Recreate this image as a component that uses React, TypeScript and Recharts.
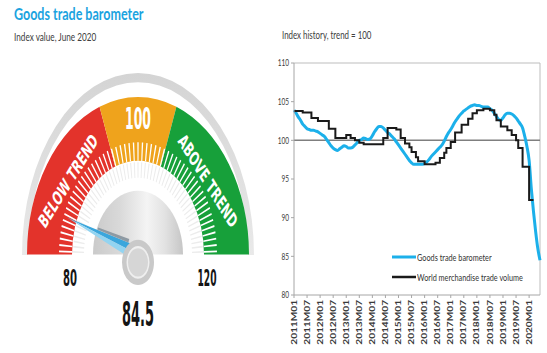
import React from 'react';
import { PieChart, Pie, Cell, LineChart, Line, XAxis, YAxis, ReferenceLine } from 'recharts';

// ---- gauge ----
const GAUGE_MIN = 80;
const GAUGE_MAX = 120;
const GAUGE_VALUE = 84.5;
const zoneNames = ['BELOW TREND', '100', 'ABOVE TREND'];
const zoneWidths = [15.5, 9, 15.5];
const zoneColors = ['#e3332b', '#efa31c', '#17a03a'];
const TICK_COUNT = 55;

// ---- history ----
const seriesNames = ['Goods trade barometer', 'World merchandise trade volume'];
const seriesColors = ['#1cb0ea', '#1a1a1a'];
const barometer = [
  103.9, 103.5, 103.0, 102.6, 102.1, 101.8, 101.5, 101.4, 101.3, 101.3, 101.2, 101.1,
  100.9, 100.7, 100.5, 100.1, 99.7, 99.3, 99.0, 98.8, 98.7, 98.9, 99.1, 99.3,
  99.2, 99.0, 99.0, 99.1, 99.4, 99.7, 100.0, 100.1, 100.3, 100.2, 100.1, 100.2,
  100.6, 101.1, 101.5, 101.8, 101.8, 101.6, 101.3, 101.0, 100.8, 100.5, 100.2, 99.8,
  99.4, 99.0, 98.6, 98.2, 97.8, 97.4, 97.1, 96.9, 96.9, 96.9, 96.9, 96.9,
  97.0, 97.2, 97.5, 97.9, 98.2, 98.5, 98.8, 99.1, 99.4, 99.9, 100.5, 101.0,
  101.4, 101.9, 102.4, 102.8, 103.2, 103.5, 103.8, 104.0, 104.2, 104.4, 104.5, 104.6,
  104.5, 104.5, 104.4, 104.3, 104.3, 104.3, 104.1, 103.9, 103.5, 103.1, 102.7, 102.6,
  102.9, 103.3, 103.5, 103.5, 103.4, 103.2, 102.9, 102.5, 102.1, 101.6, 100.5, 99.2,
  97.4, 93.8, 90.8, 88.2, 86.0, 84.5,
];
const tradeVolume = [
  103.8, 103.8, 103.8, 103.8, 103.6, 103.6, 103.6, 103.6, 102.9, 102.9, 102.9, 102.5,
  102.5, 102.5, 102.5, 102.5, 101.5, 101.5, 101.5, 100.3, 100.3, 100.3, 100.3, 100.3,
  100.7, 100.7, 100.3, 100.3, 100.0, 100.0, 99.7, 99.7, 99.5, 99.5, 99.5, 99.5,
  99.5, 99.5, 99.5, 99.5, 99.5, 100.3, 100.3, 101.6, 101.6, 101.6, 101.6, 101.4,
  101.4, 100.3, 100.3, 99.6, 99.6, 99.1, 98.5, 98.5, 97.8, 97.3, 97.3, 97.3,
  96.9, 96.9, 96.9, 96.9, 96.9, 97.1, 97.1, 97.7, 97.7, 98.4, 99.0, 99.0,
  99.8, 99.8, 101.0, 101.0, 101.0, 102.0, 102.0, 102.0, 102.8, 102.8, 103.5, 103.5,
  103.9, 103.9, 103.9, 104.1, 104.1, 104.1, 103.9, 103.9, 103.3, 102.6, 102.6, 101.8,
  101.8, 101.8, 101.3, 101.3, 100.7, 100.7, 100.0, 99.0, 99.0, 96.6, 96.6, 96.6,
  92.3, 92.3, 92.3,
];
const yTicks = [80, 85, 90, 95, 100, 105, 110];
const months = barometer.map(
  (_, i) => `${2011 + Math.floor(i / 12)}M${String((i % 12) + 1).padStart(2, '0')}`
);

const rows = months.map((month, i) => ({
  month,
  gtb: barometer[i],
  wmtv: i < tradeVolume.length ? tradeVolume[i] : null,
}));
const zones = zoneNames.map((name, i) => ({ name, value: zoneWidths[i] }));
const tickCells = Array.from({ length: TICK_COUNT }, () => [0.35, 0.3, 0.35]).flat().map(v => ({ v }));

const CX = 138;
const CY = 137;
const HUB_Y = CY + 5.5;
const SY = 1.42;
const NARROW = "'Liberation Sans Narrow', 'DejaVu Sans Condensed', Roboto, sans-serif";

function Needle() {
  const angle = 180 - ((GAUGE_VALUE - GAUGE_MIN) / (GAUGE_MAX - GAUGE_MIN)) * 180;
  const r = (angle * Math.PI) / 180;
  const ux = Math.cos(r), uy = -Math.sin(r);
  const nx = -uy, ny = ux;
  const len = 75, half = 5.5;
  const p = (d: number, o: number) => `${CX + ux * d + nx * o},${CY + uy * d + ny * o}`;
  return (
    <g>
      <polygon points={`${p(len, 0)} ${p(0, 0)} ${p(0, half)}`} fill="#3aa6dc" />
      <polygon points={`${p(len, 0)} ${p(0, 0)} ${p(0, -half)}`} fill="#93d4f1" />
      <polygon points={`${p(12, half * 0.85)} ${p(44, half * 0.45)} ${p(44, half * 0.45 + 1.6)} ${p(12, half + 1.8)}`} fill="#8e9aa3" />
    </g>
  );
}

function GaugeText() {
  const t = (deg: number, rad: number) => {
    const a = (deg * Math.PI) / 180;
    return [CX + rad * Math.cos(a), CY - rad * Math.sin(a)];
  };
  const [bx, by] = t(143.4, 87);
  const [ax, ay] = t(36.6, 87);
  return (
    <g fontFamily={NARROW} fontWeight="bold">
      <text x={bx} y={by} dy="0.35em" textAnchor="middle" fill="#fff" fontSize={14}
        textLength={82} lengthAdjust="spacingAndGlyphs" transform={`rotate(-49 ${bx} ${by})`}>{zoneNames[0]}</text>
      <text x={ax} y={ay} dy="0.35em" textAnchor="middle" fill="#fff" fontSize={14}
        textLength={82} lengthAdjust="spacingAndGlyphs" transform={`rotate(49 ${ax} ${ay})`}>{zoneNames[2]}</text>
      <text x={CX} y={41} dy="0.35em" textAnchor="middle" fill="#fff" fontSize={21}
        textLength={26} lengthAdjust="spacingAndGlyphs">{zoneNames[1]}</text>
      <text x={70} y={153.5} dy="0.35em" textAnchor="middle" fill="#151515" fontSize={16}
        textLength={14} lengthAdjust="spacingAndGlyphs">{GAUGE_MIN}</text>
      <text x={207} y={153.5} dy="0.35em" textAnchor="middle" fill="#151515" fontSize={16}
        textLength={19} lengthAdjust="spacingAndGlyphs">{GAUGE_MAX}</text>
      <text x={CX} y={179} dy="0.35em" textAnchor="middle" fill="#151515" fontSize={24}
        textLength={32} lengthAdjust="spacingAndGlyphs">{GAUGE_VALUE}</text>
    </g>
  );
}

function XTick(props: any) {
  const { x, y, payload } = props;
  return (
    <g transform={`translate(${x},${y})`}>
      <text transform="scale(1,1.35) rotate(-90)" textAnchor="end" dy="0.35em" fontSize={7.5}
        fontWeight={700} fill="#3a3a3a" fontFamily="Lato, sans-serif">{payload.value}</text>
    </g>
  );
}

function YTick(props: any) {
  const { x, y, payload } = props;
  return (
    <g transform={`translate(${x},${y})`}>
      <text transform="scale(1,1.5)" textAnchor="end" dy="0.35em" fontSize={6.5}
        fill="#3a3a3a" fontFamily="Lato, sans-serif">{payload.value}</text>
    </g>
  );
}

const full = { startAngle: 0, endAngle: 360, stroke: 'none', isAnimationActive: false };

export default function App() {
  return (
    <div style={{ position: 'absolute', left: 0, top: 0, width: 547, height: 353, background: '#fff',
      overflow: 'hidden', fontFamily: 'Lato, sans-serif' }}>
      <div style={{ position: 'absolute', left: 14, top: 6, fontSize: 12.5, fontWeight: 700, color: '#1ba3e0',
        lineHeight: 1, transform: 'scaleY(1.4)', transformOrigin: '0 0', whiteSpace: 'nowrap' }}>
        Goods trade barometer
      </div>
      <div style={{ position: 'absolute', left: 14, top: 31, fontSize: 8.2, color: '#404040',
        lineHeight: 1, transform: 'scaleY(1.4)', transformOrigin: '0 0', whiteSpace: 'nowrap' }}>
        Index value, June 2020
      </div>
      <div style={{ position: 'absolute', left: 282, top: 31, fontSize: 7.9, color: '#404040',
        lineHeight: 1, transform: 'scaleY(1.4)', transformOrigin: '0 0', whiteSpace: 'nowrap' }}>
        Index history, trend = 100
      </div>

      {/* outer rim */}
      <div style={{ position: 'absolute', left: 0, top: 60, transform: 'scaleY(1.57)', transformOrigin: '0 0' }}>
        <PieChart width={270} height={126} margin={{ top: 0, right: 0, bottom: 0, left: 0 }}>
          <defs>
            <linearGradient id="rimGrad" x1="0" y1="0" x2="0" y2="1">
              <stop offset="0" stopColor="#d4d4d4" />
              <stop offset="1" stopColor="#e9e9e9" />
            </linearGradient>
          </defs>
          <Pie data={[{ v: 1 }]} dataKey="v" cx={CX} cy={124.2} startAngle={180} endAngle={0}
            innerRadius={110} outerRadius={116} fill="url(#rimGrad)" stroke="none" isAnimationActive={false} />
        </PieChart>
      </div>

      {/* gauge dial */}
      <div style={{ position: 'absolute', left: 0, top: 60, transform: `scaleY(${SY})`, transformOrigin: '0 0' }}>
        <PieChart width={270} height={195} margin={{ top: 0, right: 0, bottom: 0, left: 0 }}>
          <defs>
            <linearGradient id="domeGrad" x1="0" y1="0" x2="1" y2="0">
              <stop offset="0" stopColor="#cacaca" />
              <stop offset="0.3" stopColor="#d9d9d9" />
              <stop offset="0.6" stopColor="#f4f4f4" />
              <stop offset="0.8" stopColor="#e2e2e2" />
              <stop offset="1" stopColor="#c6c6c6" />
            </linearGradient>
          </defs>
          <Pie data={zones} dataKey="value" cx={CX} cy={CY} startAngle={180} endAngle={0}
            innerRadius={66} outerRadius={111} stroke="none" isAnimationActive={false}>
            {zones.map((z, i) => <Cell key={z.name} fill={zoneColors[i]} />)}
          </Pie>
          <Pie data={tickCells} dataKey="v" cx={CX} cy={CY} startAngle={180} endAngle={0}
            innerRadius={66} outerRadius={79} stroke="none" isAnimationActive={false}>
            {tickCells.map((_, i) => <Cell key={i} fill={i % 3 === 1 ? '#ffffff' : 'transparent'} />)}
          </Pie>
          <Pie data={tickCells} dataKey="v" cx={CX} cy={CY} startAngle={180} endAngle={0}
            innerRadius={54} outerRadius={65} stroke="none" isAnimationActive={false}>
            {tickCells.map((_, i) => <Cell key={i} fill={i % 3 === 1 ? '#ececec' : 'transparent'} />)}
          </Pie>
          <Pie data={[{ v: 1 }]} dataKey="v" cx={CX} cy={CY} startAngle={180} endAngle={0}
            innerRadius={0} outerRadius={45} fill="url(#domeGrad)" stroke="none" isAnimationActive={false} />
        </PieChart>
      </div>

      {/* gauge overlay: labels, needle, hub */}
      <div style={{ position: 'absolute', left: 0, top: 60, transform: `scaleY(${SY})`, transformOrigin: '0 0' }}>
        <PieChart width={270} height={195} margin={{ top: 0, right: 0, bottom: 0, left: 0 }}>
          <GaugeText />
          <Needle />
          <Pie data={[{ v: 1 }]} dataKey="v" cx={CX} cy={HUB_Y} outerRadius={16} fill="#c9c9c9" {...full} />
          <Pie data={[{ v: 1 }]} dataKey="v" cx={CX} cy={HUB_Y} outerRadius={11.5} fill="#efefef" {...full} />
          <Pie data={[{ v: 1 }]} dataKey="v" cx={CX} cy={HUB_Y} outerRadius={10} fill="#d6d6d6" {...full} />
          <Pie data={[{ v: 1 }]} dataKey="v" cx={CX} cy={HUB_Y} outerRadius={2.3} fill="#b3b3b3" {...full} />
        </PieChart>
      </div>

      {/* history */}
      <div style={{ position: 'absolute', left: 255, top: 50 }}>
        <LineChart width={292} height={303} data={rows} margin={{ top: 13, right: 7, left: 0, bottom: 0 }}>
          <XAxis dataKey="month" interval={5} height={58} tick={<XTick />} tickSize={3}
            axisLine={{ stroke: '#a6a6a6' }} tickLine={{ stroke: '#a6a6a6' }} />
          <YAxis domain={[80, 110]} ticks={yTicks} width={39} tick={<YTick />} tickSize={3}
            axisLine={{ stroke: '#a6a6a6' }} tickLine={{ stroke: '#a6a6a6' }} />
          <ReferenceLine y={110} stroke="#bdbdbd" />
          <ReferenceLine x={months[months.length - 1]} stroke="#bdbdbd" />
          <ReferenceLine y={100} stroke="#7f7f7f" strokeWidth={1.5} />
          <Line dataKey="gtb" name={seriesNames[0]} type="monotone" stroke={seriesColors[0]} strokeWidth={3}
            dot={false} isAnimationActive={false} />
          <Line dataKey="wmtv" name={seriesNames[1]} type="stepAfter" stroke={seriesColors[1]} strokeWidth={2}
            dot={false} isAnimationActive={false} />
        </LineChart>
      </div>

      {/* legend */}
      <div style={{ position: 'absolute', left: 392, top: 247 }}>
        {seriesNames.map((name, i) => (
          <div key={name} style={{ display: 'flex', alignItems: 'center', height: 20 }}>
            <svg width={24} height={6}>
              <line x1={0} y1={3} x2={24} y2={3} stroke={seriesColors[i]} strokeWidth={i === 0 ? 3 : 2.5} />
            </svg>
            <span style={{ fontSize: 7.3, color: '#333', marginLeft: 1, display: 'inline-block',
              transform: 'scaleY(1.4)', whiteSpace: 'nowrap' }}>{name}</span>
          </div>
        ))}
      </div>
    </div>
  );
}
